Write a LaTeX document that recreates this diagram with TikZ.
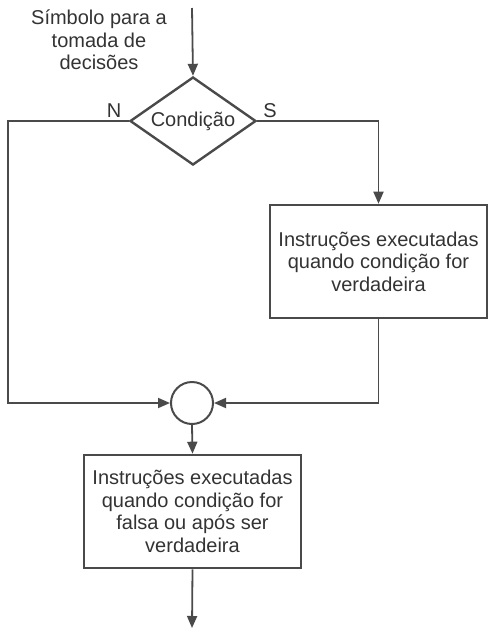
\documentclass[tikz,border=0pt]{standalone}
\usepackage{fontspec}
\setmainfont{Liberation Sans}
\usetikzlibrary{shapes.geometric,arrows.meta}
\definecolor{ink}{HTML}{333333}
\definecolor{linec}{HTML}{4A4A4A}
\begin{document}
\begin{tikzpicture}[x=1pt,y=1pt,
  every node/.style={text=ink,font=\fontsize{20}{22.5}\selectfont},
  conn/.style={draw=linec,line width=1.8pt,-{Triangle[length=12pt,width=10pt]}},
  procbox/.style={draw=linec,line width=2.6pt,rectangle,minimum width=217pt,minimum height=113pt,align=center,inner sep=0pt},
  decision/.style={draw=linec,line width=2.4pt,diamond,aspect=1.43,minimum width=126pt,minimum height=88pt,inner sep=0pt},
  joint/.style={draw=linec,line width=2pt,circle,minimum size=42pt,inner sep=0pt},
  lbl/.style={inner sep=0pt}]
\useasboundingbox (0,0) rectangle (493,-638);
\node[lbl,align=center] (title) at (99,-40) {Símbolo para a\\tomada de\\decisões};
\coordinate (start) at (192,-8);
\node[decision] (d) at (193,-121) {Condição};
\node[lbl] (n) at (114,-111) {N};
\node[lbl] (s) at (270,-111) {S};
\node[procbox] (b1) at (378.5,-261.5) {Instruções executadas\\quando condição for\\verdadeira};
\node[joint] (c) at (192,-403) {};
\node[procbox] (b2) at (192.5,-511.5) {Instruções executadas\\quando condição for\\falsa ou após ser\\verdadeira};
\coordinate (lc) at (8,-121);
\coordinate (end) at (192,-628);
\draw[conn] (start) -- (d.north);
\draw[conn] (d.west) -- (lc) |- (c.west);
\draw[conn] (d.east) -| (b1.north);
\draw[conn] (b1.south) |- (c.east);
\draw[conn] (c.south) -- (b2.north);
\draw[conn] (b2.south) -- (end);
\end{tikzpicture}
\end{document}
